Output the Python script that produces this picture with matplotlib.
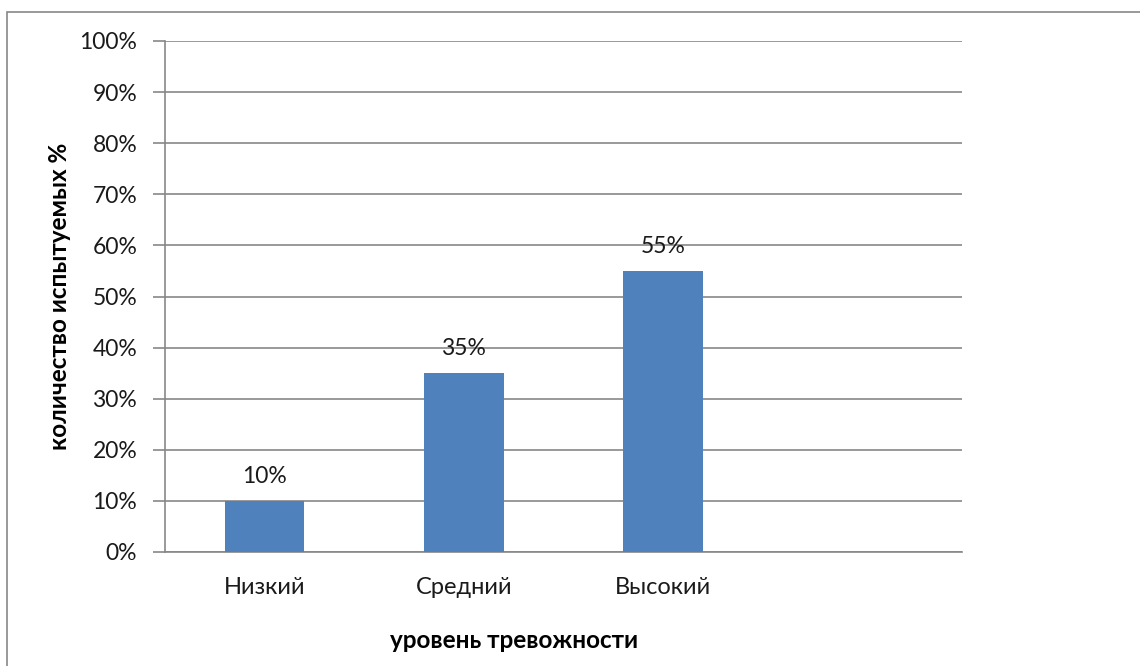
import matplotlib
matplotlib.use("Agg")
import matplotlib.pyplot as plt
from matplotlib.patches import Rectangle
from matplotlib.ticker import FuncFormatter, MultipleLocator

categories = ["Низкий", "Средний", "Высокий", ""]
values = [10, 35, 55, None]
value_labels = ["10%", "35%", "55%", ""]

plt.rcParams['font.family'] = ['Lato', 'DejaVu Sans']

W, H = 1140, 666
fig = plt.figure(figsize=(W / 100, H / 100), dpi=100)
fig.patch.set_facecolor("white")

# outer border
fig.add_artist(Rectangle((7 / W, -0.01), 1.2, 1 - 12 / H + 0.01, transform=fig.transFigure,
                         fill=False, edgecolor="#878787", linewidth=1.2))

left, right, top, bottom = 165, 962, 41, 552
ax = fig.add_axes([left / W, 1 - bottom / H, (right - left) / W, (bottom - top) / H])

x = list(range(len(categories)))
heights = [v if v is not None else 0 for v in values]
bars = ax.bar(x, heights, width=0.4, color="#4F81BD", zorder=3)
for xi, v, lab in zip(x, values, value_labels):
    if v is not None:
        ax.annotate(lab, (xi, v), xytext=(0, 13), textcoords="offset points",
                    ha="center", va="baseline", fontsize=16.5, color="#1a1a1a")

ax.set_xlim(-0.5, len(categories) - 0.5)
ax.set_ylim(0, 100)
ax.yaxis.set_major_locator(MultipleLocator(10))
ax.yaxis.set_major_formatter(FuncFormatter(lambda v, p: f"{int(v)}%"))
ax.set_xticks(x)
ax.set_xticklabels(categories)
ax.grid(axis="y", color="#878787", linewidth=1.2, zorder=0)
ax.set_axisbelow(True)

for s in ["top", "right"]:
    ax.spines[s].set_visible(False)
ax.spines["left"].set_color("#878787")
ax.spines["left"].set_linewidth(1.2)
ax.spines["bottom"].set_color("#878787")
ax.spines["bottom"].set_linewidth(1.2)

ax.tick_params(axis="y", length=9, width=1.2, color="#878787", labelsize=16.5,
               labelcolor="#1a1a1a", pad=11)
ax.tick_params(axis="x", length=0, labelsize=17, labelcolor="#1a1a1a", pad=18)

fig.text(514 / W, 1 - 640 / H, "уровень тревожности", fontsize=17.5, fontweight="bold",
         ha="center", va="center")
fig.text(60 / W, 1 - 296 / H, "количество испытуемых %", fontsize=17.5, fontweight="bold",
         ha="center", va="center", rotation=90)

fig.savefig("out.png", dpi=100, facecolor="white")
